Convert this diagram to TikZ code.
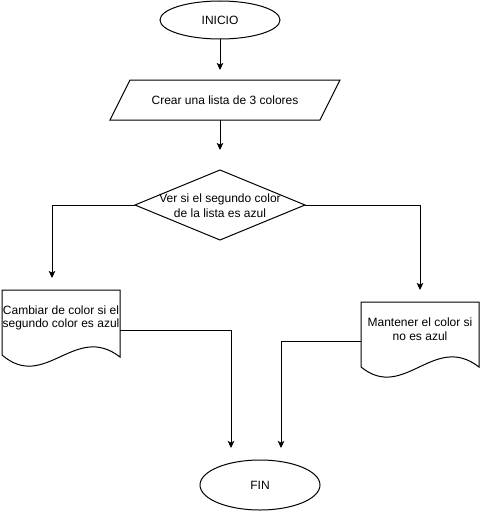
\documentclass[tikz,border=0pt]{standalone}
\usepackage{fontspec}
\setmainfont{Liberation Sans}
\usetikzlibrary{arrows.meta,shapes.geometric}
\begin{document}
\begin{tikzpicture}[x=1pt,y=-1pt, line width=1pt,
  conn/.style={draw, line width=1pt, -{Stealth[length=7pt,width=6.5pt,inset=1.5pt]}},
  lbl/.style={font=\fontsize{12}{14}\selectfont, align=center, inner sep=0pt},
  shapeline/.style={draw, line width=1pt, fill=white}]
\useasboundingbox (0,0) rectangle (481,511);
% INICIO
\node[ellipse, shapeline, minimum width=120pt, minimum height=38pt, inner sep=0pt, lbl] (ini) at (220,20) {INICIO};
% Parallelogram
\coordinate (pTL) at (130,80);
\coordinate (pTR) at (340,80);
\coordinate (pBR) at (320,120);
\coordinate (pBL) at (110,120);
\draw[shapeline] (pTL) -- (pTR) -- (pBR) -- (pBL) -- cycle;
\node[lbl] (crear) at (225,100) {Crear una lista de 3 colores};
\coordinate (crearTop) at (220,70);
\coordinate (crearBot) at (220,120);
% Diamond
\coordinate (dT) at (220,170);
\coordinate (dR) at (305,205);
\coordinate (dB) at (220,240);
\coordinate (dL) at (135,205);
\draw[shapeline] (dT) -- (dR) -- (dB) -- (dL) -- cycle;
\node[lbl, font=\fontsize{12}{15}\selectfont] (ver) at (220,206) {Ver si el segundo color\\de la lista es azul};
\coordinate (dTop) at (220,150);
% Left document
\draw[shapeline] (2,290) -- (120,290) -- (120,357) .. controls (75,322) and (45,392) .. (2,355) -- cycle;
\node[lbl, font=\fontsize{12}{13}\selectfont] (cambiar) at (61,318) {Cambiar de color si el\\segundo color es azul};
\coordinate (cTop) at (52,278);
\coordinate (cOut) at (120,330);
% Right document
\draw[shapeline] (361,302) -- (479,302) -- (479,367) .. controls (434,332) and (404,402) .. (361,367) -- cycle;
\node[lbl, font=\fontsize{12}{13.5}\selectfont] (mant) at (420,329) {Mantener el color si\\no es azul};
\coordinate (mTop) at (420,290);
\coordinate (mOut) at (361,341);
% FIN
\node[ellipse, shapeline, minimum width=120pt, minimum height=50pt, inner sep=0pt, lbl] (fin) at (260,485) {FIN};
\coordinate (fA) at (231,448);
\coordinate (fB) at (281,448);
% Connectors
\draw[conn] (ini.south) -- (crearTop);
\draw[conn] (crearBot) -- (dTop);
\draw[conn] (dL) -| (cTop);
\draw[conn] (dR) -| (mTop);
\draw[conn] (cOut) -| (fA);
\draw[conn] (mOut) -| (fB);
\end{tikzpicture}
\end{document}
